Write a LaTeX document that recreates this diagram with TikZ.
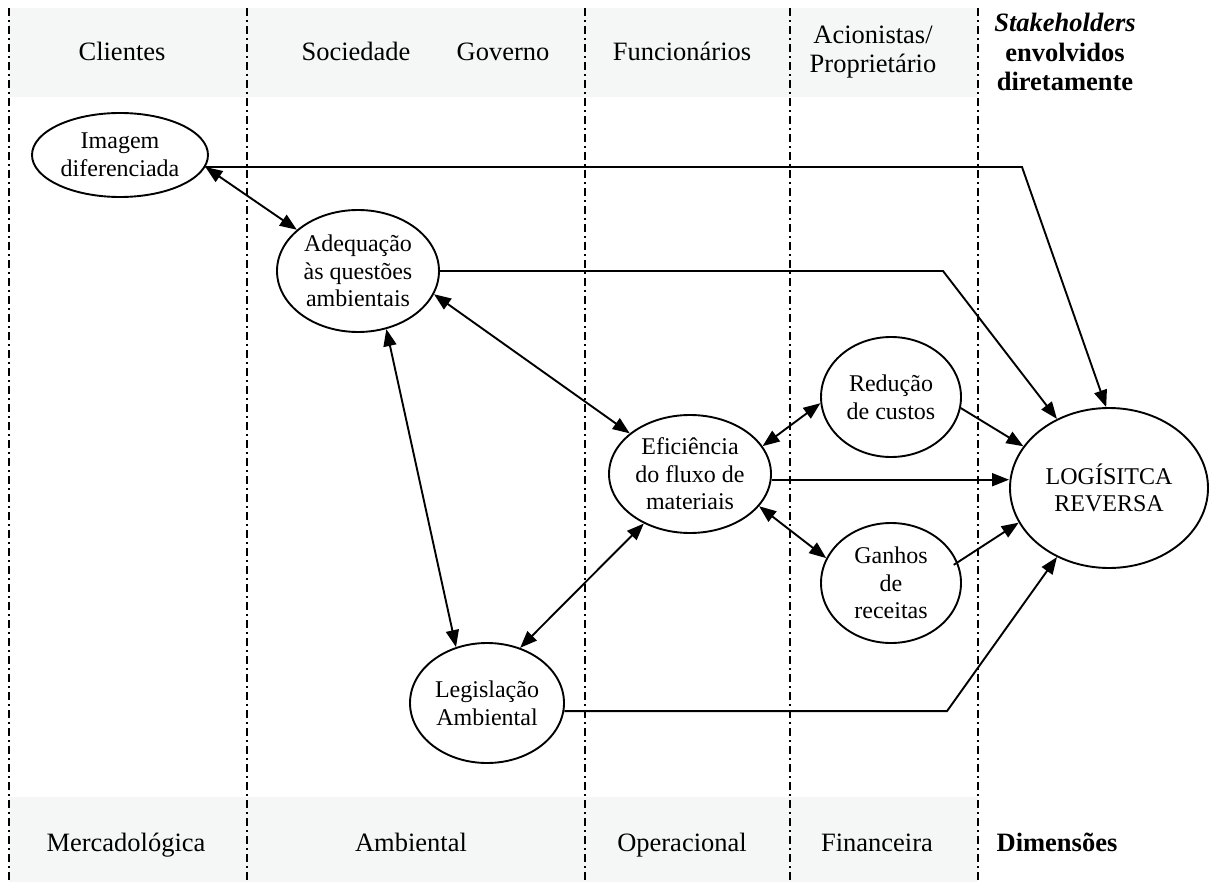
\documentclass[tikz,border=0pt]{standalone}
\usepackage{fontspec}
\setmainfont{Liberation Serif}
\usepackage{tikz}
\usetikzlibrary{positioning, arrows.meta, shapes.geometric}

\definecolor{bandgray}{RGB}{245,247,246}

\begin{document}
\begin{tikzpicture}[x=1pt, y=-1pt,
  font=\fontsize{24}{27.6}\selectfont,
  bubble/.style={ellipse, draw, line width=1.9pt, inner sep=0pt, align=center},
  divline/.style={line width=1.4pt, dash pattern=on 8pt off 4pt on 2pt off 4pt},
  band/.style={fill=bandgray, draw=none},
  headtxt/.style={align=center, inner sep=0pt, font=\fontsize{26.5}{29.5}\selectfont},
  arr/.style={line width=1.9pt, -{Triangle[length=17pt,width=13pt]}},
  dblarr/.style={line width=1.9pt, {Triangle[length=17pt,width=13pt]}-{Triangle[length=17pt,width=13pt]}}
]
\useasboundingbox[fill=white] (0,0) rectangle (1209,882);

% bands and columns
\fill[band] (9,8) rectangle (978,97);
\fill[band] (9,797) rectangle (978,882);
\foreach \xx in {9,247,585,790,978}
  \draw[divline] (\xx,8) -- (\xx,882);

% stakeholders
\node[headtxt, anchor=base] (cli) at (122,61) {Clientes};
\node[headtxt, anchor=base] (soc) at (356,61) {Sociedade};
\node[headtxt, anchor=base] (gov) at (503,61) {Governo};
\node[headtxt, anchor=base] (fun) at (682,61) {Funcionários};
\node[headtxt] (aci) at (873,52) {Acionistas/\\Proprietário};
\node[headtxt, font=\fontsize{26.5}{29.5}\selectfont\bfseries] (stk) at (1065,52)
  {\textit{Stakeholders}\\envolvidos\\diretamente};

% dimensions
\node[headtxt, anchor=base] (mer) at (126,851) {Mercadológica};
\node[headtxt, anchor=base] (amb) at (411,851) {Ambiental};
\node[headtxt, anchor=base] (ope) at (682,851) {Operacional};
\node[headtxt, anchor=base] (fin) at (877,851) {Financeira};
\node[headtxt, anchor=base, font=\fontsize{26.5}{29.5}\selectfont\bfseries] (dim) at (1057,851) {Dimensões};

% bubbles
\node[bubble, minimum width=176pt, minimum height=84pt] (img) at (120,155) {Imagem\\diferenciada};
\node[bubble, minimum width=162pt, minimum height=122pt] (adq) at (358,271) {Adequação\\às questões\\ambientais};
\node[bubble, minimum width=162pt, minimum height=118pt] (efi) at (690,474) {Eficiência\\do fluxo de\\materiais};
\node[bubble, minimum width=140pt, minimum height=120pt] (red) at (891,397) {Redução\\de custos};
\node[bubble, minimum width=140pt, minimum height=120pt] (gan) at (891,583) {Ganhos\\de\\receitas};
\node[bubble, minimum width=154pt, minimum height=120pt] (leg) at (487,703) {Legislação\\Ambiental};
\node[bubble, minimum width=198pt, minimum height=160pt] (lr) at (1109,488) {LOGÍSITCA\\REVERSA};

% bends
\coordinate (kimg) at (1022,0);
\coordinate (kadq) at (943,0);
\coordinate (kleg) at (947,0);

% links
\draw[dblarr] (img.-8) -- (adq.146);
\draw[dblarr] (adq.-17) -- (efi.146);
\draw[dblarr] (adq.-64) -- (leg.119);
\draw[dblarr] (efi.-133) -- (leg.59);
\draw[dblarr] (efi.21) -- (red.185);
\draw[dblarr] (efi.-25) -- (gan.159);

\draw[arr] (img.-8) -- (img.-8 -| kimg) -- (lr.92);
\draw[arr] (adq.0) -- (adq.0 -| kadq) -- (lr.127);
\draw[arr] (efi.-4) -- (efi.-4 -| lr.west);
\draw[arr] (red.-9) -- (lr.154);
\draw[arr] ([xshift=-5pt]gan.15) -- (lr.201);
\draw[arr] (leg.-6) -- (leg.-6 -| kleg) -- (lr.233);
\end{tikzpicture}
\end{document}
